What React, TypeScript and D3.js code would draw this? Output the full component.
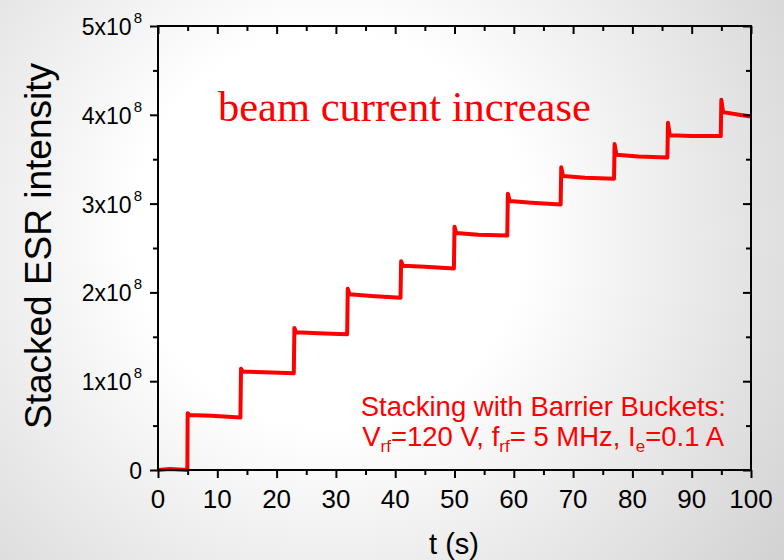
import React, { useRef, useEffect } from 'react';
import * as d3 from 'd3';

// time (s) and stacked ESR intensity (units of 1e8)
const timePoints = [
  0, 2, 4.95, 5.0, 5.3, 9, 13.9,
  14.0, 14.3, 18, 22.9,
  23.0, 23.3, 27, 31.9,
  32.0, 32.3, 36, 40.9,
  41.0, 41.3, 45, 49.9,
  50.0, 50.3, 54, 58.9,
  59.0, 59.3, 63, 67.9,
  68.0, 68.3, 72, 76.9,
  77.0, 77.3, 81, 85.9,
  86.0, 86.3, 90, 94.9,
  95.0, 95.3, 98, 100,
];
const intensityPoints = [
  0.0, 0.01, 0.0, 0.64, 0.62, 0.61, 0.59,
  1.14, 1.11, 1.10, 1.09,
  1.60, 1.55, 1.54, 1.53,
  2.04, 1.98, 1.96, 1.94,
  2.35, 2.30, 2.29, 2.27,
  2.74, 2.67, 2.65, 2.64,
  3.11, 3.03, 3.01, 2.99,
  3.41, 3.31, 3.29, 3.28,
  3.67, 3.55, 3.53, 3.52,
  3.91, 3.77, 3.76, 3.76,
  4.17, 4.03, 4.0, 3.98,
];
const xTicks = [0, 10, 20, 30, 40, 50, 60, 70, 80, 90, 100];
const yTicks = [0, 1, 2, 3, 4, 5];

const W = 784;
const H = 560;
const margin = { top: 26, right: 33, bottom: 90, left: 158 };

const App = () => {
  const svgRef = useRef<SVGSVGElement>(null);

  useEffect(() => {
    const svg = d3.select(svgRef.current);
    svg.selectAll('*').remove();

    const x = d3.scaleLinear().domain([0, 100]).range([margin.left, W - margin.right]);
    const y = d3.scaleLinear().domain([0, 5]).range([H - margin.bottom, margin.top]);

    const defs = svg.append('defs');
    const grad = defs.append('radialGradient')
      .attr('id', 'bg')
      .attr('gradientUnits', 'userSpaceOnUse')
      .attr('cx', 330).attr('cy', 230).attr('r', 560);
    grad.append('stop').attr('offset', '0.35').attr('stop-color', '#ffffff');
    grad.append('stop').attr('offset', '1').attr('stop-color', '#d2d2d2');
    svg.append('rect').attr('width', W).attr('height', H).attr('fill', 'url(#bg)');

    const font = 'Liberation Sans, Arial, sans-serif';

    // trace
    const line = d3.line<number>()
      .x((_, i) => x(timePoints[i]))
      .y(d => y(d));
    svg.append('path')
      .datum(intensityPoints)
      .attr('d', line)
      .attr('fill', 'none')
      .attr('stroke', '#ff0000')
      .attr('stroke-width', 4)
      .attr('stroke-linejoin', 'round');

    // axes: major + minor ticks
    const xMinor = d3.range(5, 100, 10);
    const yMinor = d3.range(0.5, 5, 1);
    const axisColor = '#000';

    svg.append('g').attr('transform', `translate(0,${y(0)})`)
      .call(d3.axisBottom(x).tickValues(xTicks).tickSize(8).tickFormat(() => ''));
    svg.append('g').attr('transform', `translate(0,${y(0)})`)
      .call(d3.axisBottom(x).tickValues(xMinor).tickSize(5).tickFormat(() => ''));
    svg.append('g').attr('transform', `translate(0,${y(5)})`)
      .call(d3.axisBottom(x).tickValues(xTicks).tickSize(8).tickFormat(() => ''));
    svg.append('g').attr('transform', `translate(0,${y(5)})`)
      .call(d3.axisBottom(x).tickValues(xMinor).tickSize(5).tickFormat(() => ''));
    svg.append('g').attr('transform', `translate(${x(0)},0)`)
      .call(d3.axisLeft(y).tickValues(yTicks).tickSize(8).tickFormat(() => ''));
    svg.append('g').attr('transform', `translate(${x(0)},0)`)
      .call(d3.axisLeft(y).tickValues(yMinor).tickSize(5).tickFormat(() => ''));
    svg.append('g').attr('transform', `translate(${x(100)},0)`)
      .call(d3.axisLeft(y).tickValues(yTicks).tickSize(8).tickFormat(() => ''));
    svg.append('g').attr('transform', `translate(${x(100)},0)`)
      .call(d3.axisLeft(y).tickValues(yMinor).tickSize(5).tickFormat(() => ''));
    svg.selectAll('.domain').remove();
    svg.selectAll('.tick line').attr('stroke', axisColor).attr('stroke-width', 2);

    svg.append('rect')
      .attr('x', x(0)).attr('y', y(5))
      .attr('width', x(100) - x(0)).attr('height', y(0) - y(5))
      .attr('fill', 'none').attr('stroke', axisColor).attr('stroke-width', 2);

    // tick labels
    svg.append('g').selectAll('text')
      .data(xTicks)
      .join('text')
      .attr('x', d => x(d))
      .attr('y', y(0) + 38)
      .attr('text-anchor', 'middle')
      .attr('font-family', font)
      .attr('font-size', 26)
      .text(d => d);

    const yl = svg.append('g').selectAll('text')
      .data(yTicks)
      .join('text')
      .attr('x', x(0) - 16)
      .attr('y', d => y(d) + 9)
      .attr('text-anchor', 'end')
      .attr('font-family', font)
      .attr('font-size', 23);
    yl.filter(d => d === 0).text('0');
    yl.filter(d => d !== 0).each(function (d) {
      const t = d3.select(this);
      t.append('tspan').text(`${d}x10`);
      t.append('tspan').attr('dx', 2).attr('dy', -12).attr('font-size', 15).text('8');
    });

    // axis titles
    svg.append('text')
      .attr('x', 454).attr('y', 554)
      .attr('text-anchor', 'middle')
      .attr('font-family', font).attr('font-size', 29)
      .text('t (s)');
    svg.append('text')
      .attr('transform', 'translate(51,246) rotate(-90)')
      .attr('text-anchor', 'middle')
      .attr('font-family', font).attr('font-size', 37)
      .text('Stacked ESR intensity');

    // annotations
    svg.append('text')
      .attr('x', 218).attr('y', 121)
      .attr('font-family', 'Liberation Serif, Times New Roman, serif')
      .attr('font-size', 42.5)
      .attr('fill', '#ff0000')
      .text('beam current increase');

    svg.append('text')
      .attr('x', 726).attr('y', 416)
      .attr('text-anchor', 'end')
      .attr('font-family', font).attr('font-size', 27.5)
      .attr('fill', '#ff0000')
      .text('Stacking with Barrier Buckets:');

    const l2 = svg.append('text')
      .attr('x', 724).attr('y', 446)
      .attr('text-anchor', 'end')
      .attr('font-family', font).attr('font-size', 27.5)
      .attr('fill', '#ff0000');
    const parts: [string, boolean][] = [
      ['V', false], ['rf', true], ['=120 V, f', false], ['rf', true],
      ['= 5 MHz, I', false], ['e', true], ['=0.1 A', false],
    ];
    parts.forEach(([s, sub]) => {
      const ts = l2.append('tspan').text(s);
      if (sub) ts.attr('font-size', 17).attr('baseline-shift', '-38%');
    });
  }, []);

  return (
    <svg ref={svgRef} width={W} height={H}
      style={{ position: 'absolute', left: 0, top: 0 }} />
  );
};

export default App;
